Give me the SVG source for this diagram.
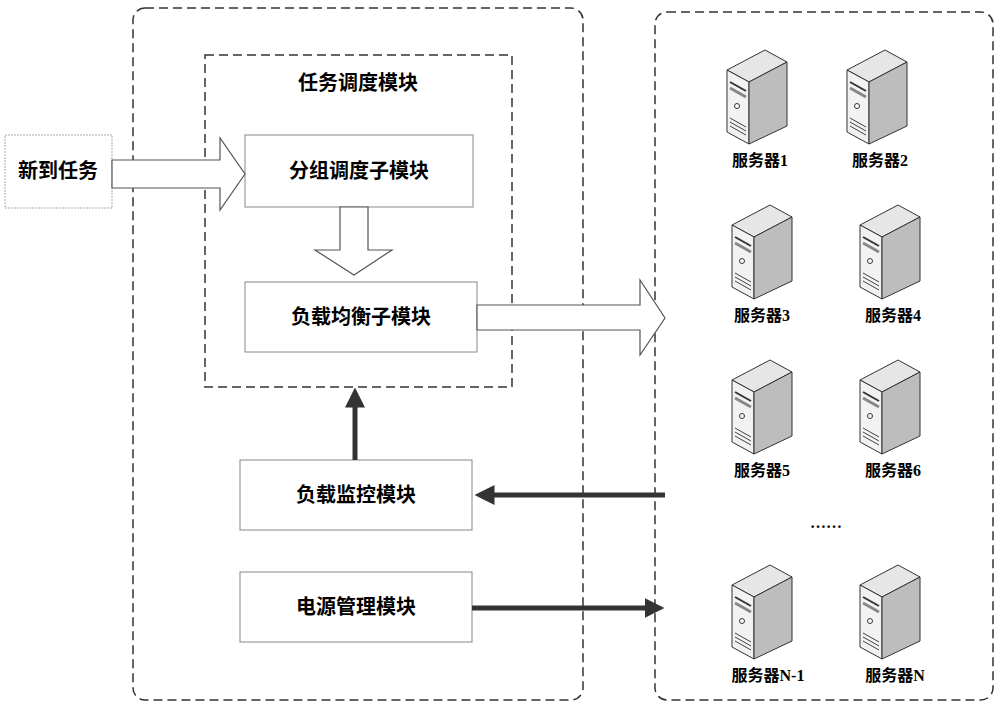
<svg xmlns="http://www.w3.org/2000/svg" width="1000" height="711" viewBox="0 0 1000 711">
<style>
.t{font-family:"Noto Sans CJK SC","Liberation Serif",serif;font-size:20px;font-weight:bold;fill:#000;text-anchor:middle}
.s{font-family:"Liberation Serif","Noto Sans CJK SC",serif;font-size:16px;font-weight:bold;fill:#000;text-anchor:middle}
.box{fill:#fff;stroke:#888;stroke-width:1}
.dash{fill:none;stroke:#333;stroke-width:1.5;stroke-dasharray:9,5}
.hol{fill:#fff;stroke:#555;stroke-width:1.2}
</style>
<defs>
<marker id="ah" markerWidth="4" markerHeight="4" refX="2.5" refY="2" orient="auto" markerUnits="strokeWidth"><path d="M0,0L4,2L0,4z" fill="#333"/></marker>
<g id="srv">
<polygon points="2,22 40,2 62,14 24,34" fill="#e6e6e6" stroke="#333"/>
<polygon points="2,22 24,34 24,96 2,84" fill="#f2f2f2" stroke="#333"/>
<polygon points="24,34 62,14 62,78 24,96" fill="#bdbdbd" stroke="#333"/>
<line x1="5" y1="34" x2="21" y2="43" stroke="#333" stroke-width="2"/>
<line x1="5" y1="40" x2="21" y2="49" stroke="#888" stroke-width="3"/>
<circle cx="12" cy="58" r="2.5" fill="#fff" stroke="#333"/>
<line x1="5" y1="70" x2="21" y2="79" stroke="#444"/>
<line x1="5" y1="74" x2="21" y2="83" stroke="#444"/>
<line x1="5" y1="78" x2="21" y2="87" stroke="#444"/>
</g>
</defs>
<rect width="1000" height="711" fill="#fff"/>
<rect class="dash" x="133" y="8" width="450" height="692" rx="12"/>
<rect class="dash" x="655" y="12" width="338" height="688" rx="12"/>
<g id="sched"><rect class="dash" x="205" y="55" width="307" height="332" stroke-width="1"/><text class="t" x="358" y="90">任务调度模块</text></g>
<g id="newtask"><rect x="5" y="135" width="107" height="73" fill="#fff" stroke="#aaa" stroke-dasharray="2,1"/><text class="t" x="58" y="178" font-weight="normal">新到任务</text></g>
<g id="group"><rect class="box" x="245" y="135" width="228" height="72"/><text class="t" x="359" y="178">分组调度子模块</text></g>
<g id="lb"><rect class="box" x="245" y="282" width="232" height="70"/><text class="t" x="361" y="324">负载均衡子模块</text></g>
<g id="mon"><rect class="box" x="240" y="460" width="232" height="70"/><text class="t" x="356" y="502">负载监控模块</text></g>
<g id="pwr"><rect class="box" x="240" y="572" width="232" height="70"/><text class="t" x="356" y="614">电源管理模块</text></g>
<g id="connectors">
<polygon class="hol" points="112,160 220,160 220,138 245,174 220,210 220,188 112,188"/>
<polygon class="hol" points="340,207 368,207 368,250 392,250 354,275 315,250 340,250"/>
<polygon class="hol" points="477,305 640,305 640,280 665,318 640,355 640,330 477,330"/>
<line x1="355" y1="460" x2="355" y2="395" stroke="#333" stroke-width="5" marker-end="url(#ah)"/>
<line x1="665" y1="495" x2="482" y2="495" stroke="#333" stroke-width="5" marker-end="url(#ah)"/>
<line x1="472" y1="608" x2="657" y2="608" stroke="#333" stroke-width="5" marker-end="url(#ah)"/>
</g>
<g id="s1"><use href="#srv" x="725" y="48"/><text class="s" x="760" y="166">服务器1</text></g>
<g id="s2"><use href="#srv" x="845" y="48"/><text class="s" x="880" y="166">服务器2</text></g>
<g id="s3"><use href="#srv" x="730" y="203"/><text class="s" x="762" y="321">服务器3</text></g>
<g id="s4"><use href="#srv" x="858" y="203"/><text class="s" x="893" y="321">服务器4</text></g>
<g id="s5"><use href="#srv" x="730" y="358"/><text class="s" x="762" y="476">服务器5</text></g>
<g id="s6"><use href="#srv" x="858" y="358"/><text class="s" x="893" y="476">服务器6</text></g>
<text class="s" x="826" y="528">……</text>
<g id="sn1"><use href="#srv" x="730" y="563"/><text class="s" x="768" y="681">服务器N-1</text></g>
<g id="sn"><use href="#srv" x="858" y="563"/><text class="s" x="895" y="681">服务器N</text></g>
</svg>
